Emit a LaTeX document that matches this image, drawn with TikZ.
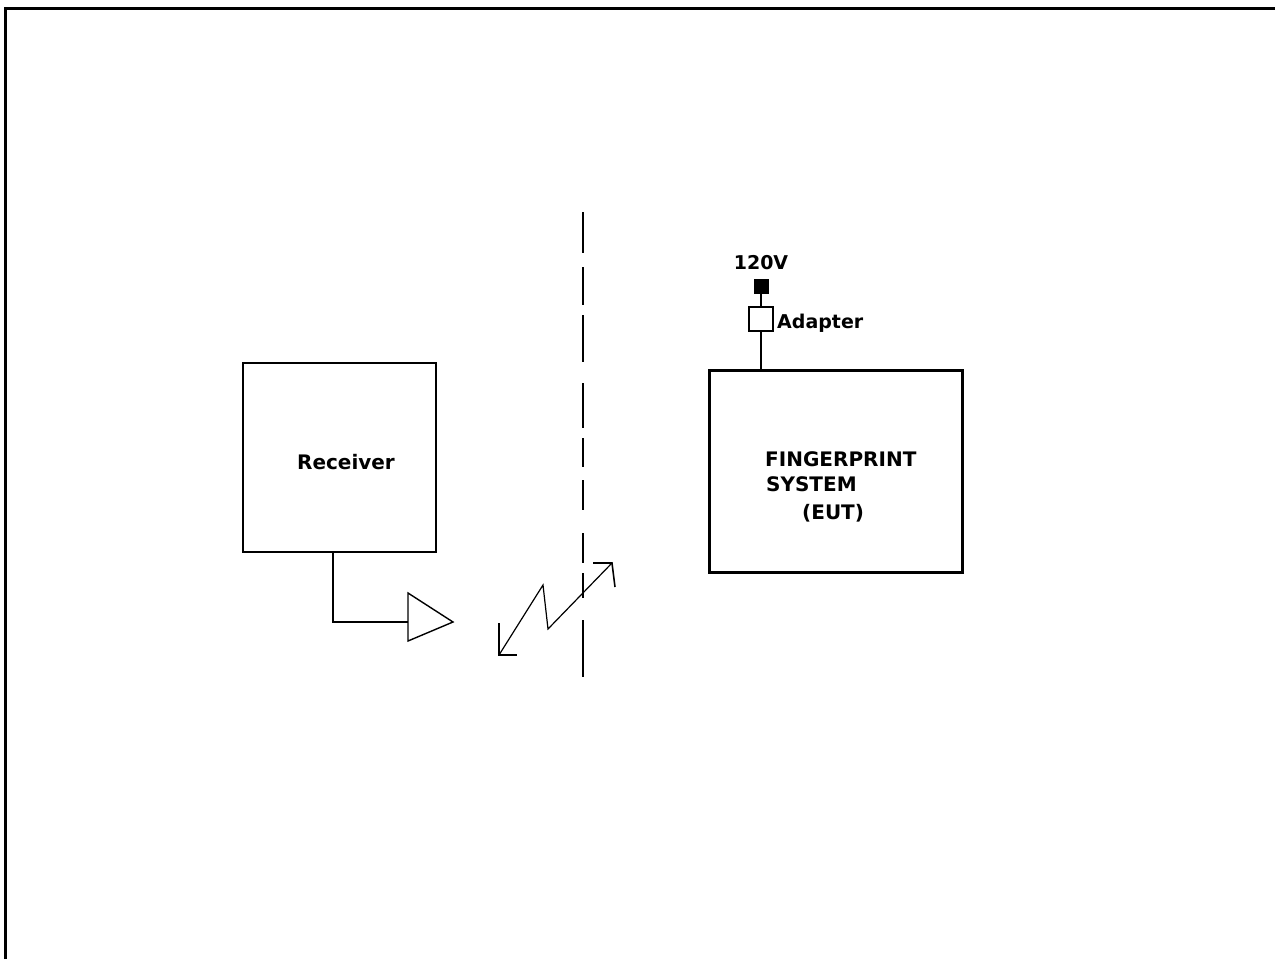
\documentclass[tikz,border=0pt]{standalone}
\usepackage{fontspec}
\setmainfont{DejaVu Sans}
\begin{document}
\begin{tikzpicture}[x=1pt,y=-1pt,
  box/.style={draw,inner sep=0pt,line cap=rect},
  lbl/.style={inner sep=0pt,font=\fontsize{20}{24}\selectfont\bfseries},
  slbl/.style={inner sep=0pt,font=\fontsize{19}{23}\selectfont\bfseries},
  wire/.style={line width=1.7pt}]
\useasboundingbox (0,0) rectangle (1275,959);
% frame
\draw[line width=3pt] (5.5,959) -- (5.5,8.5) -- (1275,8.5);
% boxes
\node[box,line width=1.7pt,minimum width=193pt,minimum height=189pt] (receiver) at (339.5,457.5) {};
\node[box,line width=3pt,minimum width=253pt,minimum height=202pt] (eut) at (835.5,471) {};
\node[box,line width=1.3pt,minimum width=24pt,minimum height=24pt] (adapter) at (761,319) {};
\node[box,fill=black,minimum width=14pt,minimum height=14pt] (plug) at (761,286) {};
% texts
\node[lbl] (rtext) at (346,462) {Receiver};
\node[lbl,anchor=base west] (t1) at (765,466) {FINGERPRINT};
\node[lbl,anchor=base west] (t2) at (766,491) {SYSTEM};
\node[lbl,anchor=base west] (t3) at (802,519) {(EUT)};
\node[slbl,anchor=base] (volt) at (761,269) {120V};
\node[slbl,anchor=base west] (adtext) at (777,328) {Adapter};
% power wiring
\draw[line width=2.5pt] (adapter.south) -- (adapter.south |- eut.north);
\draw[line width=2.5pt] (adapter.north) -- (plug.south);
% receiver antenna
\coordinate (feed) at (333,552);
\coordinate (ant) at (408,622);
\draw[wire] (feed) |- (ant);
\draw[line width=1.4pt,line join=miter] (408,593) -- (453,622) -- (408,641) -- cycle;
% dashed boundary
\foreach \a/\b in {212/253,267/305,315/362,383/428,438/467,480/510,533/563,573/598,620/677}
  \draw[line width=2pt] (583,\a) -- (583,\b);
% radio link zigzag
\coordinate (za) at (499,655);
\coordinate (zb) at (612,563);
\draw[line width=1.2pt] (za) -- (543,585) -- (548,629) -- (zb);
\draw[line width=1.6pt] (499,623) -- (za) -- (517,655);
\draw[line width=1.6pt] (593,563) -- (zb) -- (615,587);
\end{tikzpicture}
\end{document}
